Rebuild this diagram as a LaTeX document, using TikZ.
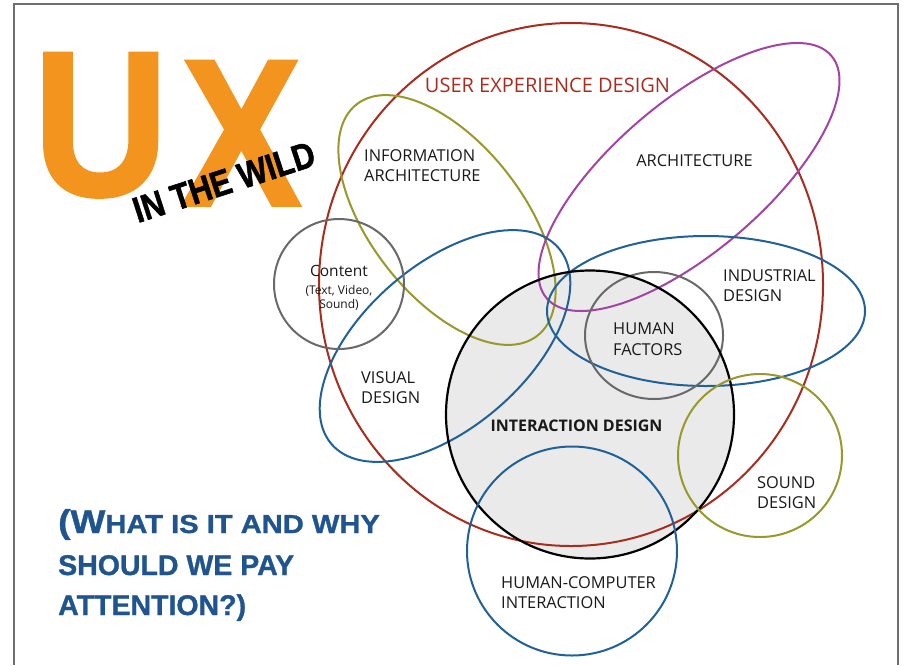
\documentclass[tikz,border=0pt]{standalone}
\usepackage{fontspec}
\usepackage{graphicx}
\setmainfont{Open Sans}
\newfontfamily\logofont{Liberation Sans}[FakeBold=1.5]
\newfontfamily\qfont{Liberation Sans}[FakeBold=1]
\definecolor{uxred}{RGB}{168,45,30}
\definecolor{uxolive}{RGB}{153,152,42}
\definecolor{uxpurple}{RGB}{163,68,163}
\definecolor{uxblue}{RGB}{33,97,153}
\definecolor{uxgray}{RGB}{105,105,105}
\definecolor{idfill}{RGB}{234,234,234}
\definecolor{uxorange}{RGB}{243,148,30}
\definecolor{qblue}{RGB}{31,84,143}
\definecolor{labeltext}{RGB}{25,25,25}
\definecolor{framegray}{RGB}{110,110,110}
\begin{document}
\begin{tikzpicture}[x=1pt,y=-1pt,
  ring/.style={line width=2pt},
  lbl/.style={inner sep=0pt, anchor=base west, text=labeltext,
              font=\fontsize{16.4}{20}\selectfont},
  clbl/.style={lbl, anchor=base},
  qtext/.style={inner sep=0pt, anchor=base west, text=qblue,
                font=\qfont\bfseries},
  logo/.style={inner sep=0pt, text=uxorange, font=\logofont\bfseries}
]
\useasboundingbox (0,0) rectangle (904,665);
\fill[white] (0,0) rectangle (904,665);
\draw[framegray, line width=1.5pt] (14,665) -- (14,4) -- (898,4) -- (898,665);

% UX logo
\node[logo, anchor=north west] (logoU) at (33,53)
  {\resizebox{135pt}{142pt}{U}};
\node[logo, anchor=north west] (logoX) at (181,61)
  {\resizebox{120pt}{144pt}{X}};
\node[inner sep=0pt, rotate=18, text=black] (wild) at (224,182)
  {\resizebox{189pt}{25pt}{\logofont\bfseries IN THE WILD}};

% interaction design fill
\fill[idfill] (590,414.5) circle [radius=144pt];

% rings
\draw[ring, uxred] (571,284.5) ellipse [x radius=252pt, y radius=261.5pt];
\draw[ring, uxolive] (447,220) ellipse [x radius=146.8pt, y radius=76.4pt, rotate=-52];
\draw[ring, uxpurple] (689,177) ellipse [x radius=187pt, y radius=75pt, rotate=40.4];
\draw[ring, uxblue] (445,346) ellipse [x radius=150pt, y radius=81.4pt, rotate=40.9];
\draw[ring, uxblue] (706,311) ellipse [x radius=159pt, y radius=75pt];
\draw[ring, uxgray] (339,284) circle [radius=65pt];
\draw[ring, uxgray] (654,335.5) ellipse [x radius=69pt, y radius=63.5pt];
\draw[ring, black, line width=2.2pt] (590,414.5) circle [radius=144pt];
\draw[ring, uxolive] (760,455.5) ellipse [x radius=82pt, y radius=81.5pt];
\draw[ring, uxblue] (572,551) ellipse [x radius=105pt, y radius=104.5pt];

% labels
\node[clbl, text=uxred, font=\fontsize{20}{24}\selectfont] (uxd) at (547.5,92.7) {USER EXPERIENCE DESIGN};
\node[lbl] (ia1) at (364,161.6) {INFORMATION};
\node[lbl] (ia2) at (364,181.9) {ARCHITECTURE};
\node[clbl] (arch) at (694.5,166.9) {ARCHITECTURE};
\node[lbl] (ind1) at (723,281.4) {INDUSTRIAL};
\node[lbl] (ind2) at (723,301.9) {DESIGN};
\node[lbl] (hf1) at (613,334.9) {HUMAN};
\node[lbl] (hf2) at (613,355.9) {FACTORS};
\node[lbl] (vd1) at (361,383.4) {VISUAL};
\node[lbl] (vd2) at (361,403.9) {DESIGN};
\node[lbl] (sd1) at (757,488.9) {SOUND};
\node[lbl] (sd2) at (757,508.9) {DESIGN};
\node[lbl] (hci1) at (501,588.4) {HUMAN-COMPUTER};
\node[lbl] (hci2) at (501,608.9) {INTERACTION};
\node[clbl, font=\fontsize{16}{20}\selectfont\bfseries] (ixd) at (576.5,431.7) {INTERACTION DESIGN};
\node[clbl, font=\fontsize{15.5}{19}\selectfont] (cont1) at (339,276.7) {Content};
\node[clbl, font=\fontsize{12}{15}\selectfont] (cont2) at (339,294) {(Text, Video,};
\node[clbl, font=\fontsize{12}{15}\selectfont] (cont3) at (339,308) {Sound)};

% question text
\node[qtext] (q1) at (58,533)
  {\scalebox{1.12}[1]{{\fontsize{33}{36}\selectfont (W}{\fontsize{26}{30}\selectfont HAT IS IT AND WHY}}};
\node[qtext, font=\qfont\bfseries\fontsize{28.5}{32}\selectfont] (q2) at (58,575) {SHOULD WE PAY};
\node[qtext, font=\qfont\bfseries\fontsize{28.5}{32}\selectfont] (q3) at (58,615) {ATTENTION?)};
\end{tikzpicture}
\end{document}
